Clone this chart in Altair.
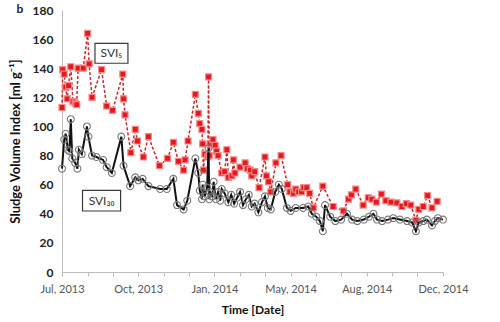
import altair as alt
import pandas as pd

# ---- data (days since 1 Jul 2013, SVI values in ml/g) ----
START = "2013-07-01"

svi5_days = [0, 1, 3, 5, 7, 9, 12, 15, 18, 20, 22, 29, 35, 37, 41, 54, 61, 69, 83, 84,
             86, 94, 100, 103, 111, 118, 133, 144, 152, 159, 166, 168, 172, 182, 186, 188, 191, 192, 193, 195,
             199, 200, 201, 202, 206, 209, 211, 213, 218, 222, 225, 227, 232, 234, 236, 243, 250, 253, 257, 259,
             263, 269, 277, 279, 282, 285, 292, 299, 308, 311, 316, 319, 323, 327, 330, 334, 338, 343, 356, 370,
             384, 391, 395, 401, 411, 418, 423, 429, 436, 442, 449, 457, 464, 470, 476, 483, 487, 493, 499, 505, 512]
svi5_vals = [113, 139, 136, 127, 119, 128, 141, 117, 116, 115, 140, 140, 164, 143, 120, 139, 114, 111, 136, 119,
             108, 82, 98, 90, 79, 93, 73, 78, 89, 76, 70, 77, 90, 122, 109, 102, 98, 88, 70, 81,
             79, 134, 80, 88, 91, 87, 83, 80, 68, 69, 84, 65, 66, 77, 68, 72, 75, 71, 70, 66,
             69, 58, 79, 66, 62, 55, 75, 80, 60, 55, 54, 57, 55, 55, 58, 58, 54, 44, 59, 45,
             42, 50, 53, 57, 46, 51, 50, 48, 53.5, 49, 48, 47.5, 45, 47, 46, 35.5, 43, 45, 52.5, 44, 48.5]

svi30_days = [0, 3, 5, 8, 10, 12, 14, 18, 21, 23, 27, 34, 36, 41, 47, 56, 61, 68, 81, 84,
              93, 100, 104, 110, 118, 134, 143, 152, 157, 166, 171, 182, 186, 188, 191, 192, 195, 198, 200, 201,
              202, 205, 207, 210, 213, 216, 218, 222, 227, 231, 235, 239, 243, 247, 251, 255, 259, 263, 268, 273,
              277, 281, 285, 291, 296, 300, 307, 312, 319, 329, 336, 341, 347, 352, 356, 359, 366, 373, 381, 389,
              396, 403, 412, 419, 425, 430, 437, 445, 452, 461, 471, 478, 483, 487, 493, 498, 505, 509, 513, 520]
svi30_vals = [71, 91, 95, 84, 83, 105, 78, 75, 71, 84, 81, 100, 93, 80, 79, 77, 72, 68, 93, 73,
              59, 65, 63, 64, 59, 57, 57, 64, 46, 43, 49, 78, 68, 56, 50, 60, 52, 58, 85, 50,
              55, 52, 62, 50, 55, 49, 57, 54, 48, 53, 47, 51, 55, 46, 50, 53, 45, 47, 41, 48,
              52, 44, 43, 55, 60, 57, 44, 42, 44, 44, 45, 40, 38, 35, 28, 46, 38, 35, 36, 40,
              36, 35, 36, 38, 40, 36, 35, 36, 37, 36, 35, 34, 28, 34, 35, 36, 32, 35, 37, 36]

tick_days = [0, 35, 69, 104, 139, 173, 208, 243, 277, 312, 347, 381, 416, 451, 485, 520]
major_labels = {0: "Jul, 2013", 104: "Oct, 2013", 208: "Jan, 2014",
                312: "May, 2014", 416: "Aug, 2014", 520: "Dec, 2014"}

# ---- build tables ----
DAY_MS = 86400000
start_ms = pd.Timestamp(START, tz="UTC").value // 10**6


def to_ms(d):
    return int(start_ms + d * DAY_MS)


df5 = pd.DataFrame({"t": [to_ms(d) for d in svi5_days], "svi": svi5_vals})
df30 = pd.DataFrame({"t": [to_ms(d) for d in svi30_days], "svi": svi30_vals})

tick_values = [to_ms(d) for d in tick_days]
label_expr = " : ".join(
    f"time(datum.value) == {to_ms(d)} ? '{lab}'" for d, lab in major_labels.items()
) + " : ''"

FONT = "Lato"

x_scale = alt.Scale(type="utc", domain=[to_ms(0), to_ms(520)])
y_scale = alt.Scale(domain=[0, 180])

x_axis = alt.Axis(
    values=tick_values, labelExpr=label_expr, grid=False,
    title="Time [Date]", titleFontWeight="bold", titleFontSize=12, titleColor="#111",
    titleFont=FONT, titlePadding=10,
    labelFont=FONT, labelFontSize=11, labelColor="#555", labelPadding=7,
    labelFlush=False, labelOverlap=False,
    domainColor="#bdbdbd", tickColor="#bdbdbd", tickSize=4,
)
y_axis = alt.Axis(
    values=list(range(0, 181, 20)), grid=False, labelOverlap=False,
    title="Sludge Volume Index  [ml g\u207b\u00b9]", titleFontWeight="bold", titleFontSize=13,
    titleColor="#111", titleFont=FONT, titlePadding=10,
    labelFont=FONT, labelFontSize=12, labelFontWeight="bold", labelColor="#222",
    labelPadding=9, ticks=False, domainColor="#bdbdbd",
)


def X(field):
    return alt.X(f"{field}:T", scale=x_scale, axis=x_axis)


def Y(field):
    return alt.Y(f"{field}:Q", scale=y_scale, axis=y_axis)


red_line = alt.Chart(df5).mark_line(
    color="#c8262b", strokeWidth=1.5, strokeDash=[3, 2]
).encode(x=X("t"), y=Y("svi"))
red_pts = alt.Chart(df5).mark_point(
    shape="square", filled=True, color="#e3191d", size=36, opacity=1,
    stroke="#f48a8a", strokeWidth=1.2
).encode(x=X("t"), y=Y("svi"))

blk_line = alt.Chart(df30).mark_line(color="#111111", strokeWidth=2).encode(x=X("t"), y=Y("svi"))
blk_pts = alt.Chart(df30).mark_point(
    shape="circle", filled=False, color="#7a7a7a", size=48, strokeWidth=1.1, opacity=1
).encode(x=X("t"), y=Y("svi"))

# ---- annotation boxes (in data coordinates) ----
boxes = pd.DataFrame({
    "t1": [to_ms(45), to_ms(28)], "t2": [to_ms(90), to_ms(80)],
    "y1": [143.4, 41.9], "y2": [157.1, 56.1],
    "tc": [to_ms(67.5), to_ms(54)], "yc": [150.2, 49.0],
    "label": ["SVI\u2085", "SVI\u2083\u2080"],
})
box_rect = alt.Chart(boxes).mark_rect(
    fill="white", stroke="#3a3a3a", strokeWidth=1.2
).encode(x=X("t1"), x2="t2:T", y=Y("y1"), y2="y2:Q")
box_text = alt.Chart(boxes).mark_text(
    font=FONT, fontSize=12, color="#333", align="center", baseline="middle"
).encode(x=X("tc"), y=Y("yc"), text="label:N")

panel_label = alt.Chart(pd.DataFrame({"s": ["b"]})).mark_text(
    font=FONT, fontSize=12, fontWeight="bold", color="#222", align="center", baseline="middle"
).encode(x=alt.value(-42), y=alt.value(-1), text="s:N")

chart = alt.layer(
    red_line, red_pts, blk_line, blk_pts, box_rect, box_text, panel_label
).properties(
    width=381, height=262,
    autosize=alt.AutoSizeParams(type="none"),
    padding={"left": 62, "top": 10, "right": 57, "bottom": 50},
    background="white",
).configure_view(stroke=None).configure_axis(labelOverlap=False)

chart.save("out.html", embed_options={"renderer": "svg", "actions": False})
